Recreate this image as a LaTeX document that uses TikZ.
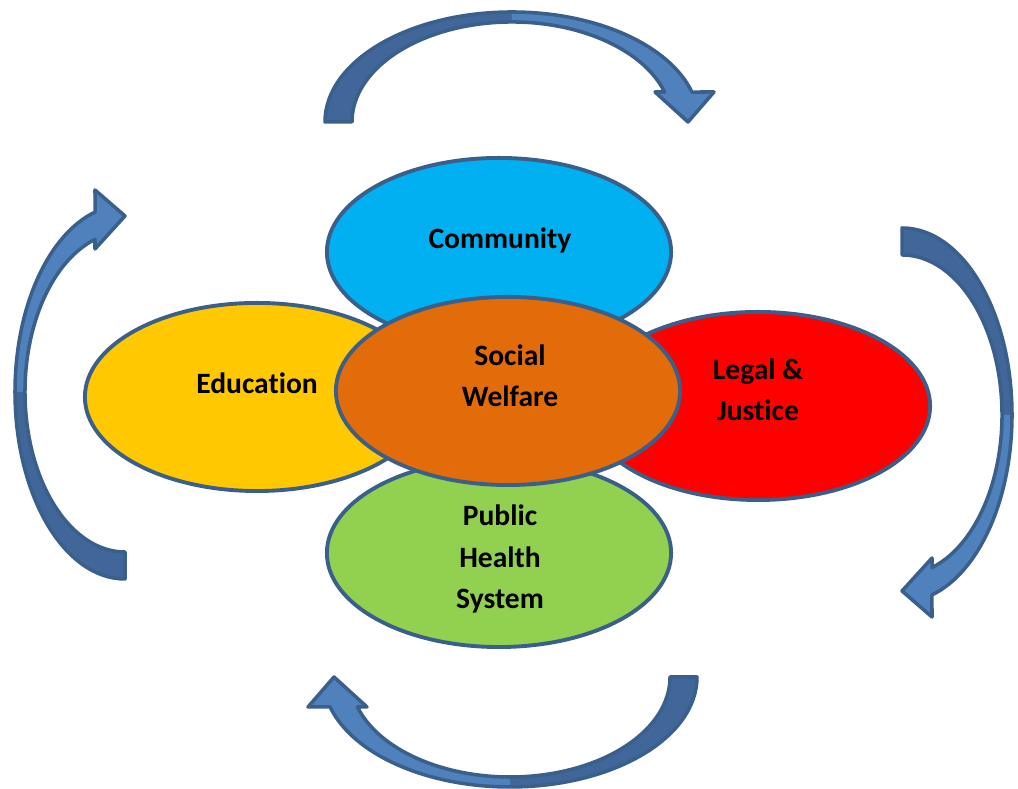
\documentclass[tikz,border=0pt]{standalone}
\usepackage{fontspec}
\setmainfont{Carlito}[Ligatures=NoCommon]
\usetikzlibrary{shapes.geometric}

\definecolor{commblue}{HTML}{00B0F0}
\definecolor{eduyellow}{HTML}{FFC800}
\definecolor{legalred}{HTML}{FF0000}
\definecolor{healthgreen}{HTML}{92D050}
\definecolor{welfareorange}{HTML}{E36C0A}
\definecolor{edgeblue}{HTML}{3A5F8B}
\definecolor{arrowdark}{HTML}{41679A}
\definecolor{arrowlight}{HTML}{4F81BD}

\tikzset{
  blob/.style={ellipse,draw=edgeblue,line width=1.1pt,minimum width=3.44cm,minimum height=1.88cm,inner sep=0pt},
  lbl/.style={font=\bfseries\fontsize{8.4}{11.7}\selectfont,align=center},
  arrowedge/.style={draw=edgeblue,line width=1pt,line join=round}
}

\begin{document}
\begin{tikzpicture}[x=0.01cm,y=0.01cm]
    \useasboundingbox (0,0) rectangle (1018,789);
    % Curved arrows round the picture
    \foreach \cx/\cy/\ang in {512/667/0, 902/374/-90, 510/112/180, 125/397/90} {
        \begin{scope}[shift={(\cx,\cy)},rotate=\ang]
            \fill[arrowdark] (-187,0) arc[start angle=180,end angle=90,x radius=187,y radius=110]
                -- (0,100) arc[start angle=90,end angle=180,x radius=160,y radius=100] -- cycle;
            \fill[arrowlight] (0,110) arc[start angle=90,end angle=15.8,x radius=187,y radius=110]
                -- (202,30) -- (176,0) -- (143,30) -- (152.6,30)
                arc[start angle=17.46,end angle=90,x radius=160,y radius=100] -- cycle;
            \draw[arrowedge] (-187,0) arc[start angle=180,end angle=15.8,x radius=187,y radius=110]
                -- (202,30) -- (176,0) -- (143,30) -- (152.6,30)
                arc[start angle=17.46,end angle=180,x radius=160,y radius=100] -- cycle;
        \end{scope}
    }
    % Outer ellipses
    \node[blob,fill=commblue] (comm) at (499,537) {};
    \node[lbl] (commtxt) at (500,549) {Community};
    \node[blob,fill=healthgreen] (health) at (499,236) {};
    \node[lbl] (healthtxt) at (500,230) {Public\\Health\\System};
    \node[blob,fill=eduyellow] (edu) at (257,392) {};
    \node[lbl] (edutxt) at (257,406) {Educat\kern0pt ion};
    \node[blob,fill=legalred] (legal) at (758,383) {};
    \node[lbl] (legaltxt) at (758,399) {Legal \&\\Just\kern0pt ice};
    % Centre
    \node[blob,fill=welfareorange] (welfare) at (508,398) {};
    \node[lbl] (welfaretxt) at (510,413) {Social\\Welfare};
\end{tikzpicture}
\end{document}
